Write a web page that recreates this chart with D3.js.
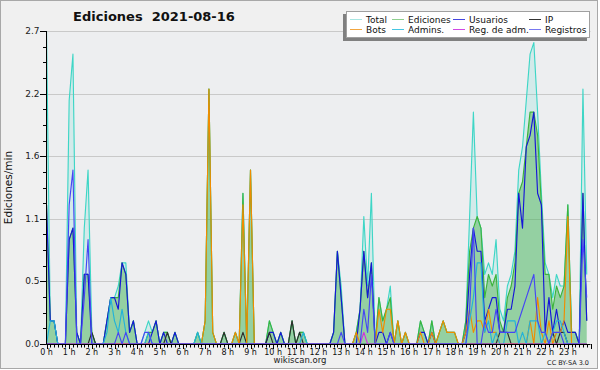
<!DOCTYPE html>
<html><head><meta charset="utf-8">
<script src="https://cdn.jsdelivr.net/npm/d3@7"></script>
<style>
body{margin:0;background:#fff}
svg{display:block}
text{font-family:"DejaVu Sans",sans-serif}
</style>
</head><body>
<svg id="c" width="600" height="370"></svg>
<script>
// Edit counts per 10-minute interval (6 values per hour, 0h..23h); plotted as count/10 = edits per minute
const hourLabels = d3.range(24).map(h => h + " h");
const yMax = 2.7;
const total = [
 27,2,2,0,0,0,  21,25,1,0,10,15,  1,0,0,0,2,4,  4,5,7,7,1,2,
 0,0,1,2,1,2,  0,1,1,0,1,0,  0,0,0,0,1,0,  2,22,1,0,0,1,
 0,0,1,0,13,0,  15,0,0,0,0,2,  1,0,1,0,0,2,  0,1,1,0,0,0,
 0,0,0,0,1,8,  5,0,0,0,1,3,  11,5,13,0,4,2,  3,5,0,2,0,1,
 0,0,0,2,1,0,  2,0,1,2,1,1,  1,0,0,2,11,20,  11,10,6,7,6,9,
 3,2,5,6,8,15,  17,21,25,26,20,13,  7,6,4,6,5,5,  12,1,1,0,22,6];
const ediciones = [
 12,2,2,0,0,0,  9,10,1,0,6,6,  1,0,0,0,2,4,  4,4,7,6,1,2,
 0,0,0,1,1,2,  0,1,1,0,1,0,  0,0,0,0,1,0,  2,22,1,0,0,1,
 0,0,1,0,13,0,  15,0,0,0,0,2,  1,0,1,0,0,2,  0,1,1,0,0,0,
 0,0,0,0,1,8,  4,0,0,0,1,3,  8,4,7,0,4,2,  3,4,0,2,0,1,
 0,0,0,2,1,0,  2,0,1,2,1,1,  1,0,0,2,8,10,  11,10,4,6,5,6,
 2,1,4,5,7,13,  14,17,20,20,18,12,  6,6,3,5,4,5,  12,1,1,0,13,2];
const usuarios = [
 12,2,2,0,0,0,  9,10,1,0,6,6,  0,0,0,0,2,4,  4,3,7,6,1,2,
 0,0,0,0,1,2,  0,1,0,0,1,0,  0,0,0,0,0,0,  0,0,0,0,0,0,
 0,0,0,0,0,0,  0,0,0,0,0,1,  1,0,1,0,0,0,  0,0,0,0,0,0,
 0,0,0,0,1,8,  4,0,0,0,0,3,  8,4,7,0,1,1,  0,1,0,0,0,0,
 0,0,0,1,1,0,  1,0,0,0,0,0,  0,0,0,1,6,10,  8,8,2,3,4,4,
 1,1,3,3,5,13,  10,17,18,20,13,12,  1,4,1,3,1,2,  1,1,1,0,13,2];
const ip = [
 0,0,0,0,0,0,  0,0,0,0,0,0,  1,0,0,0,0,0,  0,0,0,0,0,0,
 0,0,0,0,0,0,  0,0,1,0,0,0,  0,0,0,0,0,0,  0,0,0,0,0,1,
 0,0,0,0,1,0,  0,0,0,0,0,1,  0,0,0,0,0,2,  0,1,0,0,0,0,
 0,0,0,0,0,0,  0,0,0,0,0,0,  0,0,0,0,0,0,  0,0,0,0,0,0,
 0,0,0,0,0,0,  0,0,0,0,0,0,  0,0,0,0,0,0,  0,0,0,0,0,0,
 1,1,1,0,0,0,  0,0,0,0,0,0,  0,0,1,0,1,1,  0,0,0,0,0,0];
const bots = [
 0,0,0,0,0,0,  0,0,0,0,0,0,  0,0,0,0,0,0,  0,0,0,0,0,0,
 0,0,0,0,0,0,  0,0,0,0,0,0,  0,0,0,0,0,0,  2,22,1,0,0,0,
 0,0,1,0,12,0,  15,0,0,0,0,0,  0,0,0,0,0,0,  0,0,0,0,0,0,
 0,0,0,0,0,0,  0,0,0,0,1,0,  0,0,0,0,3,1,  3,3,0,2,0,1,
 0,0,0,1,0,0,  1,0,1,2,1,1,  1,0,0,1,3,1,  2,2,1,3,1,1,
 0,0,0,0,0,0,  0,0,2,0,4,1,  0,2,0,1,1,2,  11,0,0,0,0,0];
const admins = [
 0,2,2,0,0,0,  0,0,0,0,0,0,  0,0,0,0,1,4,  2,1,3,1,0,0,
 0,0,0,1,0,0,  0,0,0,0,0,0,  0,0,0,0,1,0,  0,0,0,0,0,0,
 0,0,0,0,0,0,  0,0,0,0,0,0,  0,0,0,0,0,0,  0,0,1,0,0,0,
 0,0,0,0,0,0,  0,0,0,0,0,0,  0,0,0,0,0,0,  0,0,0,0,0,0,
 0,0,0,0,0,0,  0,0,0,0,0,0,  0,0,0,0,2,4,  7,7,1,2,0,1,
 0,0,2,2,2,0,  1,0,2,2,2,0,  1,0,1,2,2,1,  0,0,0,0,0,0];
const regAdm = [
 0,0,0,0,0,0,  0,0,0,0,0,0,  0,0,0,0,0,0,  0,0,0,0,0,0,
 0,0,0,0,0,0,  0,0,0,0,0,0,  0,0,0,0,0,0,  0,0,0,0,0,0,
 0,0,0,0,0,0,  0,0,0,0,0,0,  0,0,0,0,0,0,  0,0,0,0,0,0,
 0,0,0,0,0,0,  0,0,0,0,0,0,  1,0,0,0,0,0,  0,0,0,0,0,0,
 0,0,0,0,0,0,  0,0,0,0,0,0,  0,0,0,0,0,0,  0,0,0,0,0,0,
 0,0,0,0,0,0,  0,0,0,0,0,0,  0,0,0,0,0,0,  0,0,0,0,0,0];
const registros = [
 0,0,0,0,0,0,  12,15,0,0,4,9,  0,0,0,0,0,0,  0,1,0,1,0,0,
 0,0,1,1,0,0,  0,0,0,0,0,0,  0,0,0,0,0,0,  0,0,0,0,0,0,
 0,0,0,0,0,0,  0,0,0,0,0,0,  0,0,0,0,0,0,  0,0,0,0,0,0,
 0,0,0,0,0,0,  1,0,0,0,0,0,  3,1,6,0,0,0,  0,1,0,0,0,0,
 0,0,0,0,0,0,  0,0,0,0,0,0,  0,0,0,0,3,10,  0,0,2,1,1,3,
 1,1,1,1,1,2,  3,4,5,6,2,1,  1,0,1,1,1,0,  0,0,0,0,9,4];

const legendNames = ["Total","Ediciones","Usuarios","IP","Bots","Admins.","Reg. de adm.","Registros"];
const seriesData  = [total, ediciones, usuarios, ip, bots, admins, regAdm, registros];
const lineColors  = ["#3ed6c6","#3cb43c","#1616d8","#2e2e2e","#f08c00","#22b2da","#d030e0","#4646f4"];
const legendColors= ["#a8e6e2","#8fd08f","#4646e0","#333333","#f2a640","#46c6e2","#d048e4","#7878f0"];

const svg = d3.select("#c");
svg.append("rect").attr("x",0).attr("y",0).attr("width",600).attr("height",370).attr("fill","#ffffff");
svg.append("rect").attr("x",0.5).attr("y",0.5).attr("width",597).attr("height",368)
   .attr("fill","#f0f0f0").attr("stroke","#a8a8a8");

const L = 46.5, R = 590.5, T = 31, B = 344;
svg.append("rect").attr("x",L).attr("y",T).attr("width",R-L).attr("height",B-T).attr("fill","#edeef0");

const x = d3.scaleLinear().domain([0,24]).range([L,R]);
const y = d3.scaleLinear().domain([0,yMax]).range([B,T]);

// gridlines
const major = d3.range(0,6).map(k => k*yMax/5);
const minor = d3.range(0,21).map(k => k*yMax/20);
svg.append("g").selectAll("line").data(major.slice(1)).join("line")
  .attr("x1",L).attr("x2",R).attr("y1",d=>Math.round(y(d))+0.5).attr("y2",d=>Math.round(y(d))+0.5)
  .attr("stroke","#c9c9c9").attr("stroke-width",1);

svg.append("clipPath").attr("id","clip").append("rect").attr("x",L).attr("y",T-2).attr("width",R-L).attr("height",B-T+2);
const plot = svg.append("g").attr("clip-path","url(#clip)");

const pts = arr => arr.map((v,i)=>({t:i/6, v:v/10}));
const area = d3.area().x(d=>x(d.t)).y0(B).y1(d=>y(d.v));
const line = d3.line().x(d=>x(d.t)).y(d=>y(d.v));

plot.append("path").datum(pts(total)).attr("d",area).attr("fill","rgba(64,214,198,0.15)");
plot.append("path").datum(pts(ediciones)).attr("d",area).attr("fill","rgba(62,172,62,0.42)");

seriesData.forEach((s,k)=>{
  plot.append("path").datum(pts(s)).attr("d",line).attr("fill","none")
    .attr("stroke",lineColors[k]).attr("stroke-width",1.15).attr("stroke-linejoin","round");
});

// y axis
const ya = svg.append("g");
ya.append("line").attr("x1",L).attr("x2",L).attr("y1",T).attr("y2",B).attr("stroke","#000");
ya.selectAll(".mn").data(minor).join("line")
  .attr("x1",L-3.5).attr("x2",L).attr("y1",d=>Math.round(y(d))+0.5).attr("y2",d=>Math.round(y(d))+0.5).attr("stroke","#000");
ya.selectAll(".mj").data(major).join("line")
  .attr("x1",L-6.5).attr("x2",L).attr("y1",d=>Math.round(y(d))+0.5).attr("y2",d=>Math.round(y(d))+0.5).attr("stroke","#000");
ya.selectAll("text").data(major).join("text")
  .attr("x",L-7).attr("y",d=>y(d)+3).attr("text-anchor","end").attr("font-size",9).attr("fill","#222")
  .text(d=>d3.format(".1f")(d));
svg.append("text").attr("transform","translate(12,"+((T+B)/2)+") rotate(-90)")
  .attr("text-anchor","middle").attr("font-size",10.5).attr("fill","#111").text("Ediciones/min");

// x axis
const xa = svg.append("g");
xa.append("line").attr("x1",L).attr("x2",R).attr("y1",B+0.5).attr("y2",B+0.5).attr("stroke","#000").attr("stroke-width",1.2);
xa.selectAll(".mn").data(d3.range(0,145)).join("line")
  .attr("x1",d=>Math.round(x(d/6))+0.5).attr("x2",d=>Math.round(x(d/6))+0.5)
  .attr("y1",B).attr("y2",d=> d%6===0 ? B+5 : B+3.5).attr("stroke","#000");
xa.selectAll("text").data(hourLabels).join("text")
  .attr("x",(d,i)=>x(i)).attr("y",B+10.5).attr("text-anchor","middle").attr("font-size",8).attr("fill","#111")
  .text(d=>d);

// title and footer
svg.append("text").attr("x",154).attr("y",21).attr("text-anchor","middle").attr("font-size",13)
  .attr("font-weight","bold").attr("fill","#111").attr("xml:space","preserve").style("white-space","pre")
  .text("Ediciones  2021-08-16");
svg.append("text").attr("x",300).attr("y",363).attr("text-anchor","middle").attr("font-size",8.5).attr("fill","#222").text("wikiscan.org");
svg.append("text").attr("x",589).attr("y",365).attr("text-anchor","end").attr("font-size",6.5).attr("fill","#222").text("CC BY-SA 3.0");

// legend
const lg = svg.append("g");
lg.append("rect").attr("x",343).attr("y",14).attr("width",244).attr("height",27).attr("fill","#808080");
lg.append("rect").attr("x",346.5).attr("y",11.5).attr("width",243).attr("height",26).attr("fill","#fff").attr("stroke","#a0a0a0");
const colX = [350, 392, 453, 529];
legendNames.forEach((n,k)=>{
  const col = [0,1,2,3,0,1,2,3][k], row = k<4?0:1;
  const cx = colX[col], cy = 19.5 + row*10;
  lg.append("line").attr("x1",cx).attr("x2",cx+12).attr("y1",cy).attr("y2",cy).attr("stroke",legendColors[k]).attr("stroke-width",1);
  lg.append("text").attr("x",cx+16).attr("y",cy+3.5).attr("font-size",9).attr("fill","#111").text(n);
});
</script>
</body></html>
